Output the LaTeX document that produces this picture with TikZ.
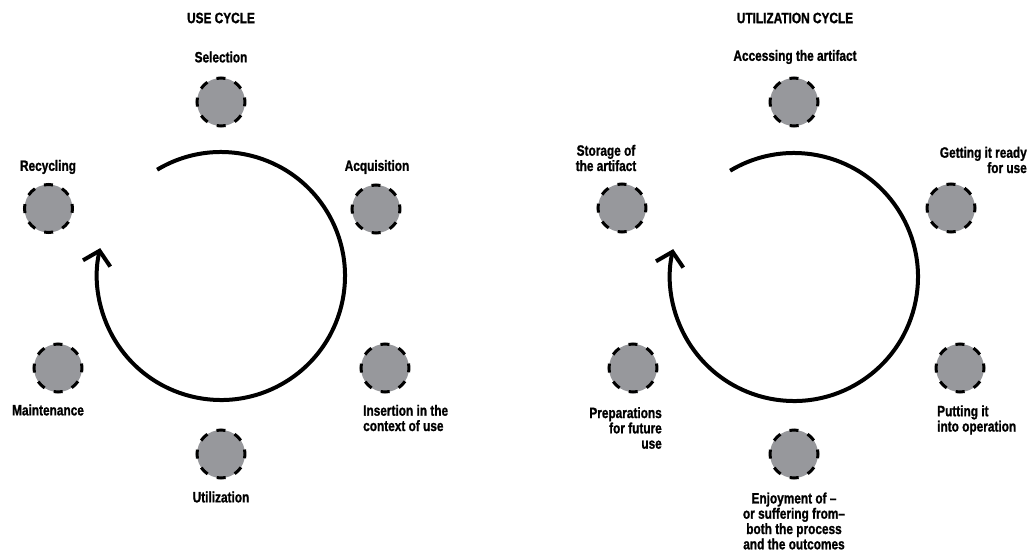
\documentclass[tikz,border=0pt]{standalone}
\usepackage{fontspec}
\usepackage{tikz}
\usetikzlibrary{arrows.meta,calc}
\newfontfamily\condfont[FakeStretch=0.79,FakeBold=1.2,Ligatures=TeX]{Liberation Sans Bold}

\begin{document}
\begin{tikzpicture}[x=1pt,y=1pt,
        stage/.style={circle, minimum size=48pt, inner sep=0pt, fill=stagegray, draw=black, line width=3pt, dash pattern=on 9pt off 9.85pt, dash phase=4.5pt},
        lbl/.style={inner sep=0pt, font=\condfont\fontsize{15}{15.3}\selectfont},
        cyc/.style={line width=4pt, -{Straight Barb[length=13pt,width=28pt,sharp]}}]
        \definecolor{stagegray}{HTML}{97989C}
        \useasboundingbox (0,0) rectangle (1031,-552);
        \node[lbl] (useTitle) at (221,-18) {USE CYCLE};
        \node[lbl] (utilTitle) at (795,-18) {UTILIZATION CYCLE};
        \node[stage] (selection) at (221,-102) {};
        \node[stage] (acquisition) at (376,-209) {};
        \node[stage] (recycling) at (48.5,-208.5) {};
        \node[stage] (maintenance) at (58,-368) {};
        \node[stage] (insertion) at (385,-368) {};
        \node[stage] (utilization) at (221,-454) {};
        \node[lbl] (selectionL) at (221,-57) {Selection};
        \node[lbl] (acquisitionL) at (377,-167) {Acquisition};
        \node[lbl] (recyclingL) at (48,-167) {Recycling};
        \node[lbl] (maintenanceL) at (48,-410) {Maintenance};
        \node[lbl, anchor=west, align=left] (insertionL) at (363,-418) {Insertion in the\\context of use};
        \node[lbl] (utilizationL) at (221,-497) {Utilization};
        \coordinate (useC) at (221,-276);
        \draw[cyc] ($(useC)+(121:124)$) arc (121:-193:124);
        \node[stage] (accessing) at (794,-102) {};
        \node[stage] (ready) at (951,-208) {};
        \node[stage] (storage) at (622,-208) {};
        \node[stage] (preparations) at (633,-368) {};
        \node[stage] (putting) at (960,-368) {};
        \node[stage] (enjoyment) at (794,-454) {};
        \node[lbl] (accessingL) at (795,-57) {Accessing the artifact};
        \node[lbl, anchor=east, align=right] (readyL) at (1027,-160) {Getting it ready\\for use};
        \node[lbl, align=center] (storageL) at (606,-158) {Storage of\\the artifact};
        \node[lbl, anchor=east, align=right] (preparationsL) at (662,-428) {Preparations\\for future\\use};
        \node[lbl, anchor=west, align=left] (puttingL) at (937,-420) {Putting it\\into operation};
        \node[lbl, align=center] (enjoymentL) at (794,-521) {Enjoyment of --\\or suffering from--\\both the process\\and the outcomes};
        \coordinate (utilC) at (794,-277);
        \draw[cyc] ($(utilC)+(121:124)$) arc (121:-193:124);
    \end{tikzpicture}
\end{document}
